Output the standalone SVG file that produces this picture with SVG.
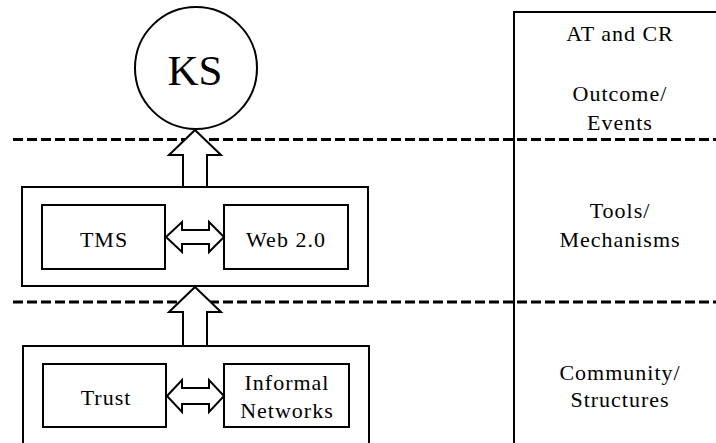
<svg xmlns="http://www.w3.org/2000/svg" width="716" height="443" viewBox="0 0 716 443">
  <style>
    .box { fill: #fff; stroke: #000; stroke-width: 2; }
    .arrow { fill: #fff; stroke: #000; stroke-width: 2; stroke-linejoin: miter; }
    .dash { stroke: #000; stroke-width: 3; stroke-dasharray: 10 4; fill: none; }
    .rule { stroke: #000; stroke-width: 2; fill: none; }
    text { font-family: "Liberation Serif", "Times New Roman", serif; fill: #000; text-anchor: middle; }
    .lbl { font-size: 22px; letter-spacing: 1px; }
    .big { font-size: 43px; }
  </style>
  <rect width="716" height="443" fill="#fff"/>

  <!-- layer dividers and the side column -->
  <g id="dividers">
    <line class="dash" x1="13" y1="139.5" x2="716" y2="139.5"/>
    <line class="dash" x1="13" y1="302" x2="716" y2="302"/>
    <polyline class="rule" points="514,443 514,12 716,12"/>
  </g>

  <g id="node-ks">
    <circle class="box" cx="196" cy="68" r="61"/>
    <text class="big" x="195" y="85">KS</text>
  </g>

  <g id="node-tools">
    <rect class="box" x="22" y="187" width="346" height="99"/>
  </g>
  <g id="node-tms">
    <rect class="box" x="42" y="205" width="123" height="64"/>
    <text class="lbl" x="104" y="247">TMS</text>
  </g>
  <g id="node-web">
    <rect class="box" x="224" y="205" width="124" height="64"/>
    <text class="lbl" x="286" y="247">Web 2.0</text>
  </g>

  <g id="node-community">
    <rect class="box" x="23" y="346" width="346" height="110"/>
  </g>
  <g id="node-trust">
    <rect class="box" x="43" y="364" width="123" height="63"/>
    <text class="lbl" x="106" y="405">Trust</text>
  </g>
  <g id="node-networks">
    <rect class="box" x="224" y="364" width="125" height="63"/>
    <text class="lbl" x="287" y="390">Informal</text>
    <text class="lbl" x="287" y="418">Networks</text>
  </g>

  <!-- connectors: block arrows between layers and between paired nodes -->
  <g id="connectors">
    <polygon class="arrow" points="195,130 221,155 207,155 207,187 183,187 183,155 169,155"/>
    <polygon class="arrow" points="195,287 221,312 207,312 207,346 183,346 183,312 169,312"/>
    <polygon class="arrow" points="166,237 182,222 182,230 209,230 209,222 224,237 209,252 209,244 182,244 182,252"/>
    <polygon class="arrow" points="167,396 182,380 182,388 209,388 209,380 224,396 209,412 209,404 182,404 182,412"/>
  </g>

  <g id="side-labels">
    <text class="lbl" x="620" y="41">AT and CR</text>
    <text class="lbl" x="620" y="101">Outcome/</text>
    <text class="lbl" x="620" y="130">Events</text>
    <text class="lbl" x="620" y="218">Tools/</text>
    <text class="lbl" x="620" y="247">Mechanisms</text>
    <text class="lbl" x="620" y="380">Community/</text>
    <text class="lbl" x="620" y="407">Structures</text>
  </g>
</svg>
